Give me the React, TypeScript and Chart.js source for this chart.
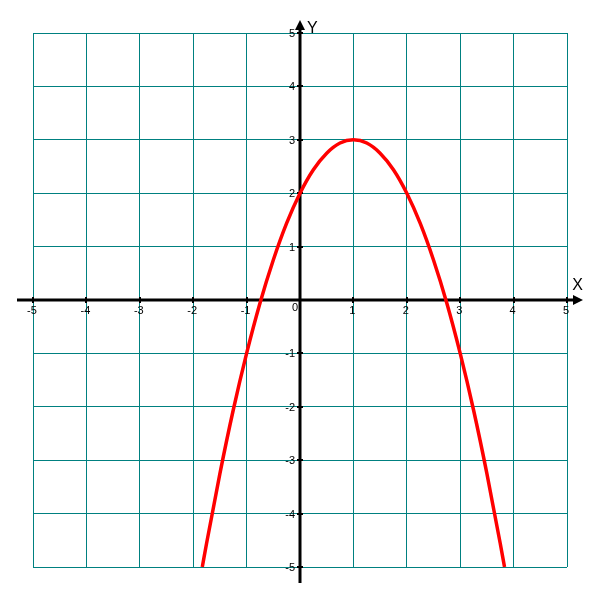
import React, { useEffect, useRef } from "react";
import { Chart, registerables } from "chart.js";

Chart.register(...registerables);

const xValues = [-1.83, -1.75, -1.5, -1.25, -1, -0.75, -0.5, -0.25, 0, 0.25, 0.5, 0.75, 1, 1.25, 1.5, 1.75, 2, 2.25, 2.5, 2.75, 3, 3.25, 3.5, 3.75, 3.83];
const yValues = [-5, -4.56, -3.25, -2.06, -1, -0.06, 0.75, 1.44, 2, 2.44, 2.75, 2.94, 3, 2.94, 2.75, 2.44, 2, 1.44, 0.75, -0.06, -1, -2.06, -3.25, -4.56, -5];
const tickValues = [-5, -4, -3, -2, -1, 1, 2, 3, 4, 5];
const axisMin = -5;
const axisMax = 5;
const xAxisLabel = "X";
const yAxisLabel = "Y";
const originLabel = "0";

const axesPlugin = {
  id: "cartesianAxes",
  beforeDatasetsDraw(chart: any) {
    const ctx = chart.ctx;
    const xs = chart.scales.x;
    const ys = chart.scales.y;
    const x0 = Math.round(xs.getPixelForValue(0));
    const y0 = Math.round(ys.getPixelForValue(0));
    const left = xs.getPixelForValue(axisMin) - 16;
    const right = xs.getPixelForValue(axisMax) + 16;
    const top = ys.getPixelForValue(axisMax) - 13;
    const bottom = ys.getPixelForValue(axisMin) + 16;
    ctx.save();
    ctx.strokeStyle = "#000";
    ctx.fillStyle = "#000";
    ctx.lineWidth = 3;
    ctx.beginPath();
    ctx.moveTo(left, y0);
    ctx.lineTo(right - 8, y0);
    ctx.moveTo(x0, bottom);
    ctx.lineTo(x0, top + 8);
    ctx.stroke();
    // arrows
    ctx.beginPath();
    ctx.moveTo(right, y0);
    ctx.lineTo(right - 10, y0 - 5);
    ctx.lineTo(right - 10, y0 + 5);
    ctx.closePath();
    ctx.fill();
    ctx.beginPath();
    ctx.moveTo(x0, top);
    ctx.lineTo(x0 - 5, top + 10);
    ctx.lineTo(x0 + 5, top + 10);
    ctx.closePath();
    ctx.fill();
    // tick marks
    ctx.lineWidth = 2;
    ctx.beginPath();
    for (const v of tickValues) {
      const px = Math.round(xs.getPixelForValue(v));
      ctx.moveTo(px, y0 - 3);
      ctx.lineTo(px, y0 + 3);
      const py = Math.round(ys.getPixelForValue(v));
      ctx.moveTo(x0 - 3, py);
      ctx.lineTo(x0 + 3, py);
    }
    ctx.stroke();
    // tick labels
    ctx.font = "11px 'Liberation Sans', Arial, sans-serif";
    ctx.textBaseline = "top";
    ctx.textAlign = "center";
    for (const v of tickValues) {
      const px = xs.getPixelForValue(v);
      ctx.fillText(String(v), px - 1, y0 + 5);
    }
    ctx.textAlign = "right";
    ctx.textBaseline = "middle";
    for (const v of tickValues) {
      const py = ys.getPixelForValue(v);
      ctx.fillText(String(v), x0 - 5, py + 1);
    }
    ctx.textBaseline = "top";
    ctx.fillText(originLabel, x0 - 2, y0 + 2);
    // axis names
    ctx.font = "16px 'Liberation Sans', Arial, sans-serif";
    ctx.textAlign = "left";
    ctx.textBaseline = "top";
    ctx.fillText(yAxisLabel, x0 + 7, top + 1);
    ctx.textAlign = "right";
    ctx.textBaseline = "bottom";
    ctx.fillText(xAxisLabel, right, y0 - 6);
    ctx.restore();
  },
};

export default function App() {
  const canvasRef = useRef<HTMLCanvasElement>(null);
  useEffect(() => {
    document.body.style.margin = "0";
    const canvas = canvasRef.current;
    if (!canvas) return;
    const chart = new Chart(canvas, {
      type: "line",
      data: {
        datasets: [
          {
            data: xValues.map((x, i) => ({ x, y: yValues[i] })),
            borderColor: "#ff0000",
            borderWidth: 3.5,
            pointRadius: 0,
            tension: 0.4,
            cubicInterpolationMode: "monotone",
            fill: false,
            clip: false,
          } as any,
        ],
      },
      plugins: [axesPlugin],
      options: {
        animation: false,
        responsive: false,
        maintainAspectRatio: false,
        events: [],
        layout: { padding: { left: 33, right: 33, top: 33, bottom: 33 } },
        plugins: { legend: { display: false }, tooltip: { enabled: false } },
        scales: {
          x: {
            type: "linear",
            min: axisMin,
            max: axisMax,
            ticks: { display: false, stepSize: 1 },
            border: { display: false },
            grid: { color: "#008080", lineWidth: 1, drawTicks: false },
            afterFit: (s: any) => { s.height = 0; },
          },
          y: {
            type: "linear",
            min: axisMin,
            max: axisMax,
            ticks: { display: false, stepSize: 1 },
            border: { display: false },
            grid: { color: "#008080", lineWidth: 1, drawTicks: false },
            afterFit: (s: any) => { s.width = 0; },
          },
        },
      },
    });
    return () => chart.destroy();
  }, []);
  return <canvas ref={canvasRef} width={600} height={600} style={{ display: "block" }} />;
}
